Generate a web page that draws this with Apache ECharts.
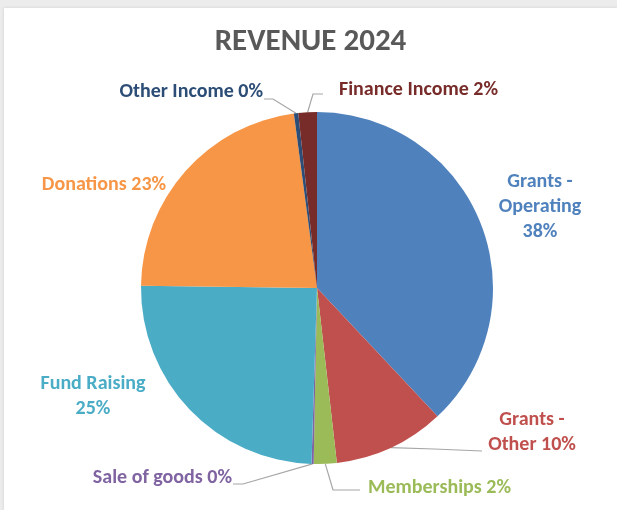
<!DOCTYPE html>
<html>
<head>
<meta charset="utf-8">
<script src="https://cdn.jsdelivr.net/npm/echarts@6/dist/echarts.min.js"></script>
<style>
  html, body { margin: 0; padding: 0; background: #ececec; }
  #chart {
    position: absolute; left: 4px; top: 8px;
    width: 613px; height: 502px;
    background: #fff;
    box-shadow: 0 0 3px rgba(0, 0, 0, 0.12);
  }
</style>
</head>
<body>
<div id="chart"></div>
<script>
// 数据
const categories = ['Grants - Operating', 'Grants - Other', 'Memberships', 'Sale of goods',
  'Fund Raising', 'Donations', 'Other Income', 'Finance Income'];
const values = [38.0, 10.2, 2.1, 0.2, 24.7, 22.7, 0.4, 1.7];
const colors = ['#4F81BD', '#C0504D', '#9BBB59', '#8064A2', '#4BACC6', '#F79646', '#2C4D75', '#772C2A'];

// label text with line breaks
const labelTpl = {
  'Grants - Operating': 'Grants -\nOperating\n{p}%',
  'Grants - Other': 'Grants -\nOther {p}%',
  'Fund Raising': 'Fund Raising\n{p}%'
};

// label spots (chart px): x, y, align, leader line mid/end
const labelSpots = [
  { x: 536, y: 199, align: 'center', line: null },
  { x: 528, y: 424, align: 'center', line: [[430, 441], [478, 443]] },
  { x: 364, y: 480, align: 'left', line: [[329, 482], [356, 482]] },
  { x: 228, y: 470, align: 'right', line: [[239, 476], [229, 476]] },
  { x: 89, y: 388, align: 'center', line: null },
  { x: 100, y: 177, align: 'center', line: null },
  { x: 259, y: 84, align: 'right', line: [[269, 91], [260, 91]] },
  { x: 335, y: 82, align: 'left', line: [[309, 86], [319, 86]] }
];

const chart = echarts.init(document.getElementById('chart'));
const font = 'Carlito, Calibri, Lato, sans-serif';

const pieData = categories.map((name, i) => ({
  name: name,
  value: values[i],
  itemStyle: { color: colors[i] },
  label: { color: colors[i] },
  labelLine: { show: labelSpots[i].line != null }
}));

const option = {
  backgroundColor: '#fff',
  title: {
    text: 'REVENUE 2024',
    left: 'center',
    top: 14,
    textStyle: { fontFamily: font, fontSize: 31, fontWeight: 'bold', color: '#595959' }
  },
  series: [{
    type: 'pie',
    center: [313, 280],
    radius: [0, 176],
    startAngle: 90,
    avoidLabelOverlap: false,
    animation: false,
    data: pieData,
    itemStyle: { borderWidth: 0 },
    label: {
      show: true,
      position: 'outside',
      fontFamily: font,
      fontSize: 20,
      fontWeight: 'bold',
      lineHeight: 25,
      formatter: (p) => {
        const pct = Math.round(p.percent);
        const tpl = labelTpl[p.name] || p.name + ' {p}%';
        return tpl.replace('{p}', pct);
      }
    },
    labelLine: {
      lineStyle: { color: '#a6a6a6', width: 1.2 }
    },
    labelLayout: (params) => {
      const spot = labelSpots[params.dataIndex];
      const out = { x: spot.x, y: spot.y, align: spot.align, verticalAlign: 'middle' };
      if (spot.line && params.labelLinePoints) {
        out.labelLinePoints = [params.labelLinePoints[0], spot.line[0], spot.line[1]];
      }
      return out;
    }
  }]
};

chart.setOption(option);
</script>
</body>
</html>
